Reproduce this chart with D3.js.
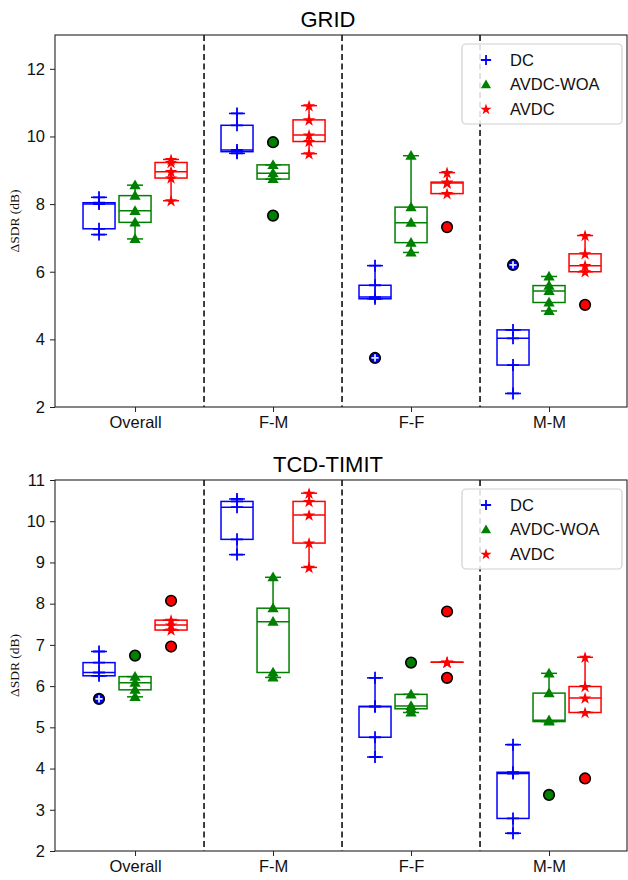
<!DOCTYPE html>
<html><head><meta charset="utf-8">
<script src="https://cdn.jsdelivr.net/npm/d3@7/dist/d3.min.js"></script>
<style>body{margin:0;background:#fff}svg{display:block}</style>
</head><body>
<svg id="c" width="628" height="880"></svg>
<script>
const categories = ["Overall", "F-M", "F-F", "M-M"];
const methods = ["DC", "AVDC-WOA", "AVDC"];
const colors = ["#0000ff", "#008000", "#ff0000"];

// GRID values per category (5 values per box)
const gridDC = [[7.1, 7.27, 8.0, 8.04, 8.2], [9.5, 9.55, 9.6, 10.33, 10.68], [3.45, 5.2, 5.25, 5.6, 6.18], [2.4, 3.24, 4.03, 4.28, 6.2]];
const gridWOA = [[6.97, 7.46, 7.8, 8.25, 8.56], [7.66, 8.74, 8.91, 9.16, 9.83], [6.57, 6.86, 7.45, 7.91, 9.43], [4.84, 5.09, 5.43, 5.59, 5.86]];
const gridAVDC = [[8.1, 8.77, 8.96, 9.23, 9.32], [9.49, 9.85, 10.04, 10.49, 10.91], [7.32, 8.31, 8.62, 8.65, 8.93], [5.02, 6.0, 6.18, 6.53, 7.07]];
// TCD-TIMIT values
const tcdDC = [[5.69, 6.25, 6.33, 6.57, 6.84], [9.19, 9.56, 10.34, 10.48, 10.54], [4.28, 4.76, 5.5, 5.51, 6.2], [2.43, 2.79, 3.88, 3.91, 4.58]];
const tcdWOA = [[5.74, 5.91, 6.08, 6.23, 6.74], [6.21, 6.33, 7.56, 7.89, 8.64], [5.36, 5.45, 5.52, 5.8, 6.57], [3.36, 5.14, 5.17, 5.83, 6.31]];
const tcdAVDC = [[6.96, 7.36, 7.48, 7.6, 8.07], [8.88, 9.47, 10.15, 10.48, 10.68], [6.2, 6.58, 6.58, 6.58, 7.81], [3.76, 5.36, 5.71, 5.99, 6.7]];

const gridTicks = [2, 4, 6, 8, 10, 12];
const tcdTicks = [2, 3, 4, 5, 6, 7, 8, 9, 10, 11];

const svg = d3.select("#c");
const LEFT = 55, RIGHT = 627;
const FONT = "Liberation Sans, Arial, Helvetica, sans-serif";
const x = d3.scaleLinear().domain([-0.58, 3.565]).range([LEFT, RIGHT]);
const offsets = [-0.261, 0, 0.261];
const boxW = 0.232;

function stats(vals) {
  const s = vals.slice().sort(d3.ascending);
  const q1 = d3.quantile(s, 0.25), med = d3.quantile(s, 0.5), q3 = d3.quantile(s, 0.75);
  const iqr = q3 - q1, lo = q1 - 1.5 * iqr, hi = q3 + 1.5 * iqr;
  const inside = s.filter(v => v >= lo && v <= hi);
  return {q1, med, q3, wLo: d3.min(inside), wHi: d3.max(inside), out: s.filter(v => v < lo || v > hi), all: s};
}

function marker(g, m, cx, cy, color, scale) {
  scale = scale || 1;
  if (m === 0) {
    const h = 6 * scale;
    g.append("path").attr("d", `M${cx - h},${cy}H${cx + h}M${cx},${cy - h}V${cy + h}`)
      .attr("stroke", color).attr("stroke-width", 1.8).attr("fill", "none");
  } else if (m === 1) {
    g.append("path").attr("d", d3.symbol(d3.symbolTriangle, 55 * scale * scale)())
      .attr("transform", `translate(${cx},${cy + 0.8})`).attr("fill", color);
  } else {
    g.append("path").attr("d", d3.symbol(d3.symbolStar, 48 * scale * scale)())
      .attr("transform", `translate(${cx},${cy + 0.5})`).attr("fill", color);
  }
}

function panel(cfg) {
  const g = svg.append("g");
  const y = d3.scaleLinear().domain(cfg.domain).range([cfg.bottom, cfg.top]);
  [0.5, 1.5, 2.5].forEach(v => {
    g.append("line").attr("x1", x(v)).attr("x2", x(v)).attr("y1", cfg.top).attr("y2", cfg.bottom)
      .attr("stroke", "#000").attr("stroke-width", 1.5).attr("stroke-dasharray", "6,3.5");
  });
  const pw = x(boxW) - x(0);
  cfg.series.forEach((ser, si) => {
    ser.forEach((vals, ci) => {
      const st = stats(vals);
      const cx = x(ci + offsets[si]);
      const c = colors[si];
      const bg = g.append("g").attr("stroke", c).attr("stroke-width", 1.5).attr("fill", "none");
      bg.append("rect").attr("x", cx - pw / 2).attr("width", pw)
        .attr("y", y(st.q3)).attr("height", Math.max(0.01, y(st.q1) - y(st.q3)));
      bg.append("line").attr("x1", cx).attr("x2", cx).attr("y1", y(st.q3)).attr("y2", y(st.wHi));
      bg.append("line").attr("x1", cx).attr("x2", cx).attr("y1", y(st.q1)).attr("y2", y(st.wLo));
      [st.wHi, st.wLo].forEach(v => bg.append("line").attr("x1", cx - pw / 4).attr("x2", cx + pw / 4)
        .attr("y1", y(v)).attr("y2", y(v)));
      bg.append("line").attr("x1", cx - pw / 2).attr("x2", cx + pw / 2).attr("y1", y(st.med)).attr("y2", y(st.med));
      st.out.forEach(v => {
        g.append("circle").attr("cx", cx).attr("cy", y(v)).attr("r", 5.3)
          .attr("fill", c).attr("stroke", "#000").attr("stroke-width", 1.6);
      });
      st.all.forEach(v => {
        const isOut = st.out.includes(v);
        marker(g, si, cx, y(v), isOut ? (si === 0 ? "#dfe6ff" : c) : c, isOut ? 0.6 : 1);
      });
    });
  });
  g.append("rect").attr("x", LEFT).attr("y", cfg.top).attr("width", RIGHT - LEFT).attr("height", cfg.bottom - cfg.top)
    .attr("fill", "none").attr("stroke", "#222").attr("stroke-width", 1.1);
  const ay = g.append("g").attr("transform", `translate(${LEFT},0)`)
    .call(d3.axisLeft(y).tickValues(cfg.ticks).tickSize(5).tickPadding(5).tickFormat(d3.format("d")));
  ay.select(".domain").remove();
  ay.selectAll("text").attr("font-family", FONT).attr("font-size", 16.5).attr("fill", "#111");
  ay.selectAll("line").attr("stroke", "#222");
  const ax = g.append("g").attr("transform", `translate(0,${cfg.bottom})`)
    .call(d3.axisBottom(x).tickValues([0, 1, 2, 3]).tickSize(5).tickPadding(4).tickFormat(i => categories[i]));
  ax.select(".domain").remove();
  ax.selectAll("text").attr("font-family", FONT).attr("font-size", 16.5).attr("fill", "#111");
  ax.selectAll("line").attr("stroke", "#222");
  g.append("text").attr("transform", `translate(19,${(cfg.top + cfg.bottom) / 2}) rotate(-90)`)
    .attr("text-anchor", "middle").attr("font-family", "Liberation Serif, Times New Roman, serif")
    .attr("font-size", 13.5).attr("fill", "#111").text("ΔSDR (dB)");
  g.append("text").attr("x", 328).attr("y", cfg.top - 8).attr("text-anchor", "middle")
    .attr("font-family", FONT).attr("font-size", 22).attr("fill", "#000").text(cfg.title);
  const lg = g.append("g");
  lg.append("rect").attr("x", 462).attr("y", cfg.top + 9).attr("width", 160).attr("height", 80).attr("rx", 4)
    .attr("fill", "#fff").attr("fill-opacity", 0.85).attr("stroke", "#d0d0d0").attr("stroke-width", 1.2);
  methods.forEach((m, i) => {
    const yy = cfg.top + 25 + i * 24.5;
    marker(lg, i, 486, yy, colors[i], i === 0 ? 0.85 : 0.9);
    lg.append("text").attr("x", 510).attr("y", yy).attr("dy", "0.35em")
      .attr("font-family", FONT).attr("font-size", 16.5).attr("fill", "#111").text(m);
  });
}

panel({top: 35, bottom: 407, domain: [2, 13], ticks: gridTicks, title: "GRID", series: [gridDC, gridWOA, gridAVDC]});
panel({top: 480, bottom: 851, domain: [2, 11], ticks: tcdTicks, title: "TCD-TIMIT", series: [tcdDC, tcdWOA, tcdAVDC]});
</script>
</body></html>
